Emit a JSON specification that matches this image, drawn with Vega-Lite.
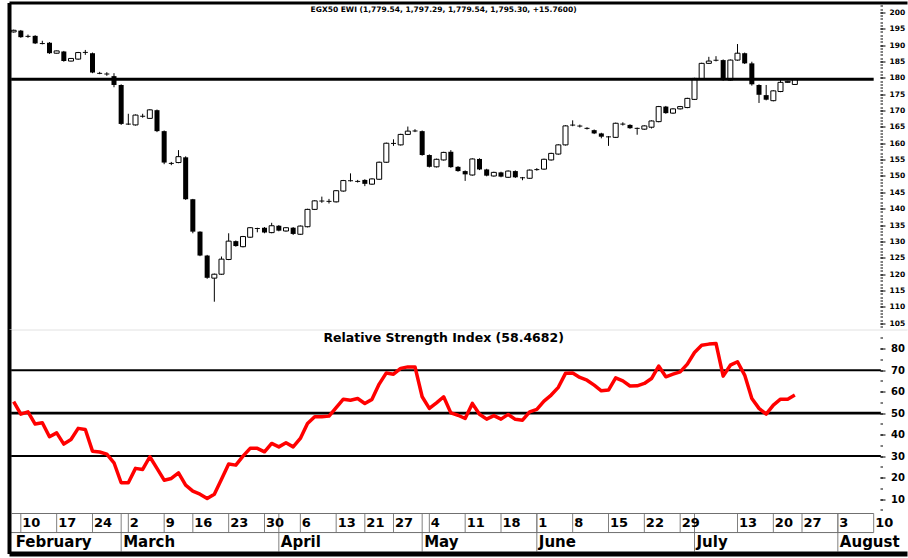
{
  "$schema": "https://vega.github.io/schema/vega-lite/v6.json",
  "padding": {"left": 9, "top": 2.5, "right": 1, "bottom": 4.5},
  "background": "white",
  "bounds": "flush",
  "spacing": 0,
  "config": {
    "view": {"stroke": null},
    "font": "DejaVu Sans",
    "axisX": {"domain": false, "ticks": false, "labels": false, "grid": false, "title": null},
    "axisY": {"domain": false, "ticks": false, "labels": false, "grid": false, "title": null}
  },
  "datasets": {
    "bars": [
      {"d":"2020-02-09","o":1940,"h":1947,"l":1938,"c":1945,"r":55.3},
      {"d":"2020-02-10","o":1944,"h":1946,"l":1922,"c":1924,"r":49.5},
      {"d":"2020-02-11","o":1928,"h":1932,"l":1922,"c":1925,"r":50.6},
      {"d":"2020-02-12","o":1928,"h":1930,"l":1903,"c":1905,"r":44.9},
      {"d":"2020-02-13","o":1906,"h":1913,"l":1902,"c":1903,"r":45.5},
      {"d":"2020-02-16","o":1907,"h":1909,"l":1873,"c":1875,"r":39.0},
      {"d":"2020-02-17","o":1875,"h":1883,"l":1874,"c":1882,"r":40.8},
      {"d":"2020-02-18","o":1880,"h":1882,"l":1849,"c":1851,"r":35.6},
      {"d":"2020-02-19","o":1851,"h":1860,"l":1850,"c":1859,"r":37.7},
      {"d":"2020-02-20","o":1857,"h":1879,"l":1855,"c":1877,"r":42.9},
      {"d":"2020-02-23","o":1879,"h":1885,"l":1870,"c":1876,"r":42.4},
      {"d":"2020-02-24","o":1875,"h":1877,"l":1814,"c":1816,"r":32.3},
      {"d":"2020-02-25","o":1815,"h":1818,"l":1811,"c":1812,"r":31.9},
      {"d":"2020-02-26","o":1813,"h":1817,"l":1806,"c":1810,"r":30.9},
      {"d":"2020-02-27","o":1805,"h":1814,"l":1771,"c":1778,"r":26.9},
      {"d":"2020-03-01","o":1778,"h":1780,"l":1656,"c":1659,"r":17.6},
      {"d":"2020-03-02","o":1660,"h":1690,"l":1656,"c":1657,"r":17.6},
      {"d":"2020-03-03","o":1656,"h":1688,"l":1654,"c":1686,"r":24.3},
      {"d":"2020-03-04","o":1684,"h":1690,"l":1678,"c":1681,"r":23.8},
      {"d":"2020-03-05","o":1676,"h":1704,"l":1675,"c":1702,"r":29.7},
      {"d":"2020-03-08","o":1701,"h":1703,"l":1634,"c":1637,"r":24.3},
      {"d":"2020-03-09","o":1637,"h":1639,"l":1536,"c":1541,"r":18.8},
      {"d":"2020-03-10","o":1540,"h":1543,"l":1533,"c":1537,"r":19.6},
      {"d":"2020-03-11","o":1541,"h":1579,"l":1539,"c":1559,"r":22.2},
      {"d":"2020-03-15","o":1557,"h":1560,"l":1427,"c":1429,"r":16.5},
      {"d":"2020-03-16","o":1429,"h":1430,"l":1325,"c":1330,"r":13.7},
      {"d":"2020-03-17","o":1330,"h":1331,"l":1255,"c":1257,"r":12.3},
      {"d":"2020-03-18","o":1257,"h":1259,"l":1186,"c":1189,"r":10.3},
      {"d":"2020-03-19","o":1188,"h":1202,"l":1116,"c":1200,"r":12.3},
      {"d":"2020-03-22","o":1200,"h":1254,"l":1198,"c":1246,"r":19.2},
      {"d":"2020-03-23","o":1245,"h":1325,"l":1243,"c":1301,"r":26.3},
      {"d":"2020-03-24","o":1301,"h":1303,"l":1284,"c":1286,"r":25.8},
      {"d":"2020-03-25","o":1284,"h":1317,"l":1282,"c":1315,"r":30.0},
      {"d":"2020-03-26","o":1313,"h":1344,"l":1311,"c":1342,"r":33.6},
      {"d":"2020-03-29","o":1341,"h":1342,"l":1328,"c":1338,"r":33.6},
      {"d":"2020-03-30","o":1342,"h":1344,"l":1325,"c":1327,"r":32.0},
      {"d":"2020-03-31","o":1327,"h":1357,"l":1325,"c":1348,"r":35.9},
      {"d":"2020-04-01","o":1348,"h":1350,"l":1331,"c":1333,"r":34.3},
      {"d":"2020-04-02","o":1332,"h":1344,"l":1330,"c":1342,"r":36.2},
      {"d":"2020-04-05","o":1342,"h":1344,"l":1320,"c":1323,"r":34.3},
      {"d":"2020-04-06","o":1322,"h":1349,"l":1320,"c":1347,"r":38.2},
      {"d":"2020-04-07","o":1345,"h":1400,"l":1343,"c":1398,"r":45.2},
      {"d":"2020-04-08","o":1398,"h":1426,"l":1396,"c":1424,"r":48.3},
      {"d":"2020-04-09","o":1425,"h":1437,"l":1418,"c":1422,"r":48.3},
      {"d":"2020-04-12","o":1424,"h":1430,"l":1416,"c":1421,"r":48.6},
      {"d":"2020-04-13","o":1421,"h":1457,"l":1419,"c":1455,"r":52.6},
      {"d":"2020-04-14","o":1454,"h":1488,"l":1452,"c":1486,"r":56.5},
      {"d":"2020-04-15","o":1487,"h":1508,"l":1483,"c":1484,"r":56.0},
      {"d":"2020-04-16","o":1485,"h":1488,"l":1480,"c":1482,"r":56.8},
      {"d":"2020-04-21","o":1488,"h":1490,"l":1469,"c":1476,"r":54.5},
      {"d":"2020-04-22","o":1475,"h":1493,"l":1473,"c":1491,"r":56.4},
      {"d":"2020-04-23","o":1490,"h":1544,"l":1488,"c":1542,"r":63.5},
      {"d":"2020-04-26","o":1542,"h":1602,"l":1540,"c":1600,"r":68.7},
      {"d":"2020-04-27","o":1601,"h":1612,"l":1592,"c":1598,"r":68.1},
      {"d":"2020-04-28","o":1595,"h":1629,"l":1593,"c":1627,"r":70.8},
      {"d":"2020-04-29","o":1627,"h":1651,"l":1625,"c":1637,"r":71.5},
      {"d":"2020-04-30","o":1639,"h":1643,"l":1634,"c":1636,"r":71.5},
      {"d":"2020-05-03","o":1637,"h":1639,"l":1562,"c":1564,"r":57.6},
      {"d":"2020-05-04","o":1564,"h":1566,"l":1526,"c":1528,"r":52.2},
      {"d":"2020-05-05","o":1528,"h":1553,"l":1526,"c":1551,"r":54.8},
      {"d":"2020-05-06","o":1549,"h":1574,"l":1547,"c":1572,"r":57.6},
      {"d":"2020-05-07","o":1574,"h":1579,"l":1525,"c":1527,"r":50.1},
      {"d":"2020-05-10","o":1528,"h":1530,"l":1513,"c":1515,"r":49.0},
      {"d":"2020-05-11","o":1515,"h":1517,"l":1485,"c":1505,"r":47.5},
      {"d":"2020-05-12","o":1503,"h":1554,"l":1501,"c":1552,"r":54.5},
      {"d":"2020-05-13","o":1552,"h":1554,"l":1518,"c":1520,"r":49.5},
      {"d":"2020-05-14","o":1520,"h":1522,"l":1499,"c":1501,"r":47.2},
      {"d":"2020-05-17","o":1500,"h":1513,"l":1498,"c":1511,"r":48.8},
      {"d":"2020-05-18","o":1511,"h":1513,"l":1496,"c":1498,"r":47.2},
      {"d":"2020-05-19","o":1496,"h":1517,"l":1494,"c":1515,"r":49.4},
      {"d":"2020-05-20","o":1515,"h":1517,"l":1494,"c":1496,"r":47.1},
      {"d":"2020-05-21","o":1496,"h":1497,"l":1487,"c":1493,"r":46.7},
      {"d":"2020-05-24","o":1493,"h":1520,"l":1491,"c":1518,"r":50.6},
      {"d":"2020-06-01","o":1521,"h":1524,"l":1516,"c":1518,"r":51.7},
      {"d":"2020-06-02","o":1521,"h":1553,"l":1519,"c":1551,"r":55.6},
      {"d":"2020-06-03","o":1549,"h":1571,"l":1547,"c":1569,"r":58.4},
      {"d":"2020-06-04","o":1567,"h":1597,"l":1565,"c":1595,"r":62.0},
      {"d":"2020-06-07","o":1595,"h":1655,"l":1593,"c":1653,"r":68.5},
      {"d":"2020-06-08","o":1657,"h":1670,"l":1652,"c":1654,"r":68.7},
      {"d":"2020-06-09","o":1654,"h":1657,"l":1648,"c":1651,"r":66.6},
      {"d":"2020-06-10","o":1647,"h":1649,"l":1642,"c":1644,"r":65.3},
      {"d":"2020-06-11","o":1640,"h":1642,"l":1628,"c":1630,"r":63.0},
      {"d":"2020-06-14","o":1630,"h":1632,"l":1615,"c":1620,"r":60.4},
      {"d":"2020-06-15","o":1621,"h":1622,"l":1592,"c":1618,"r":60.7},
      {"d":"2020-06-16","o":1618,"h":1663,"l":1616,"c":1661,"r":66.4},
      {"d":"2020-06-17","o":1660,"h":1664,"l":1654,"c":1657,"r":65.0},
      {"d":"2020-06-18","o":1656,"h":1658,"l":1644,"c":1646,"r":62.6},
      {"d":"2020-06-21","o":1647,"h":1648,"l":1626,"c":1644,"r":62.7},
      {"d":"2020-06-22","o":1643,"h":1655,"l":1641,"c":1653,"r":63.8},
      {"d":"2020-06-23","o":1649,"h":1670,"l":1645,"c":1668,"r":66.1},
      {"d":"2020-06-24","o":1666,"h":1714,"l":1664,"c":1712,"r":71.9},
      {"d":"2020-06-25","o":1712,"h":1714,"l":1690,"c":1692,"r":66.9},
      {"d":"2020-06-28","o":1692,"h":1707,"l":1690,"c":1705,"r":68.1},
      {"d":"2020-06-29","o":1705,"h":1714,"l":1703,"c":1712,"r":69.2},
      {"d":"2020-06-30","o":1709,"h":1739,"l":1707,"c":1737,"r":72.8},
      {"d":"2020-07-01","o":1734,"h":1800,"l":1732,"c":1798,"r":78.2},
      {"d":"2020-07-05","o":1796,"h":1846,"l":1794,"c":1844,"r":81.6},
      {"d":"2020-07-07","o":1844,"h":1864,"l":1842,"c":1851,"r":82.1},
      {"d":"2020-07-08","o":1855,"h":1866,"l":1850,"c":1852,"r":82.4},
      {"d":"2020-07-09","o":1854,"h":1856,"l":1791,"c":1793,"r":67.2},
      {"d":"2020-07-12","o":1793,"h":1856,"l":1791,"c":1854,"r":72.3},
      {"d":"2020-07-13","o":1854,"h":1903,"l":1852,"c":1875,"r":73.9},
      {"d":"2020-07-14","o":1875,"h":1877,"l":1842,"c":1844,"r":67.7},
      {"d":"2020-07-15","o":1844,"h":1849,"l":1776,"c":1780,"r":56.8},
      {"d":"2020-07-16","o":1778,"h":1780,"l":1723,"c":1748,"r":52.2},
      {"d":"2020-07-19","o":1747,"h":1778,"l":1731,"c":1733,"r":49.5},
      {"d":"2020-07-20","o":1730,"h":1762,"l":1728,"c":1760,"r":53.7},
      {"d":"2020-07-21","o":1758,"h":1798,"l":1756,"c":1786,"r":56.5},
      {"d":"2020-07-22","o":1786,"h":1791,"l":1784,"c":1789,"r":56.5},
      {"d":"2020-07-26","o":1779.54,"h":1797.29,"l":1779.54,"c":1795.3,"r":58.47}
    ],
    "weeks": [
      {"d":"2020-02-10","t":"10"},{"d":"2020-02-17","t":"17"},{"d":"2020-02-24","t":"24"},
      {"d":"2020-03-02","t":"2"},{"d":"2020-03-09","t":"9"},{"d":"2020-03-16","t":"16"},{"d":"2020-03-23","t":"23"},{"d":"2020-03-30","t":"30"},
      {"d":"2020-04-06","t":"6"},{"d":"2020-04-13","t":"13"},{"d":"2020-04-21","t":"21"},{"d":"2020-04-27","t":"27"},
      {"d":"2020-05-04","t":"4"},{"d":"2020-05-11","t":"11"},{"d":"2020-05-18","t":"18"},
      {"d":"2020-06-01","t":"1"},{"d":"2020-06-08","t":"8"},{"d":"2020-06-15","t":"15"},{"d":"2020-06-22","t":"22"},{"d":"2020-06-29","t":"29"},
      {"d":"2020-07-13","t":"13"},{"d":"2020-07-20","t":"20"},{"d":"2020-07-27","t":"27"},
      {"d":"2020-08-03","t":"3"},{"d":"2020-08-10","t":"10"}
    ],
    "months": [
      {"d":"2020-02-09","m":"February","lead":true},
      {"d":"2020-03-01","m":"March","lead":false},{"d":"2020-04-01","m":"April","lead":false},{"d":"2020-05-03","m":"May","lead":false},
      {"d":"2020-06-01","m":"June","lead":false},{"d":"2020-07-01","m":"July","lead":false},{"d":"2020-08-03","m":"August","lead":false}
    ],
    "titles": [
      {"d":"2020-05-06","panel":"price","t":"EGX50 EWI (1,779.54, 1,797.29, 1,779.54, 1,795.30, +15.7600)"},
      {"d":"2020-05-06","panel":"rsi","t":"Relative Strength Index (58.4682)"}
    ]
  },
  "vconcat": [
    {
      "width": 898,
      "height": 327,
      "resolve": {"axis": {"y": "independent"}},
      "encoding": {
        "x": {"field": "d", "type": "ordinal", "axis": {"orient": "top", "domain": true, "domainColor": "black", "domainWidth": 3, "zindex": 1},
          "scale": {"type": "band", "paddingInner": 0.3, "paddingOuter": 0.3, "domain": ["2020-02-09","2020-02-10","2020-02-11","2020-02-12","2020-02-13","2020-02-16","2020-02-17","2020-02-18","2020-02-19","2020-02-20","2020-02-23","2020-02-24","2020-02-25","2020-02-26","2020-02-27","2020-03-01","2020-03-02","2020-03-03","2020-03-04","2020-03-05","2020-03-08","2020-03-09","2020-03-10","2020-03-11","2020-03-15","2020-03-16","2020-03-17","2020-03-18","2020-03-19","2020-03-22","2020-03-23","2020-03-24","2020-03-25","2020-03-26","2020-03-29","2020-03-30","2020-03-31","2020-04-01","2020-04-02","2020-04-05","2020-04-06","2020-04-07","2020-04-08","2020-04-09","2020-04-12","2020-04-13","2020-04-14","2020-04-15","2020-04-16","2020-04-21","2020-04-22","2020-04-23","2020-04-26","2020-04-27","2020-04-28","2020-04-29","2020-04-30","2020-05-03","2020-05-04","2020-05-05","2020-05-06","2020-05-07","2020-05-10","2020-05-11","2020-05-12","2020-05-13","2020-05-14","2020-05-17","2020-05-18","2020-05-19","2020-05-20","2020-05-21","2020-05-24","2020-06-01","2020-06-02","2020-06-03","2020-06-04","2020-06-07","2020-06-08","2020-06-09","2020-06-10","2020-06-11","2020-06-14","2020-06-15","2020-06-16","2020-06-17","2020-06-18","2020-06-21","2020-06-22","2020-06-23","2020-06-24","2020-06-25","2020-06-28","2020-06-29","2020-06-30","2020-07-01","2020-07-05","2020-07-07","2020-07-08","2020-07-09","2020-07-12","2020-07-13","2020-07-14","2020-07-15","2020-07-16","2020-07-19","2020-07-20","2020-07-21","2020-07-22","2020-07-26","2020-07-27","2020-07-28","2020-07-29","2020-07-30","2020-07-31","2020-08-03","2020-08-04","2020-08-05","2020-08-06","2020-08-07","2020-08-10","2020-08-11","2020-08-12","2020-08-13","2020-08-14"]}}
      },
      "layer": [
        {
          "data": {"name": "bars"},
          "mark": {"type": "rule", "color": "black", "strokeWidth": 1},
          "encoding": {
            "y": {"field": "l", "type": "quantitative", "scale": {"domain": [1031.1, 2029.9], "nice": false, "zero": false},
              "axis": {"orient": "left", "domain": true, "domainColor": "black", "domainWidth": 4, "zindex": 1}},
            "y2": {"field": "h"}
          }
        },
        {
          "data": {"name": "bars"},
          "mark": {"type": "bar", "strokeWidth": 1},
          "encoding": {
            "y": {"field": "o", "type": "quantitative",
              "axis": {"orient": "right", "offset": -27, "ticks": true, "tickColor": "black", "tickWidth": 1, "tickSize": 5,
                "values": [1050,1100,1150,1200,1250,1300,1350,1400,1450,1500,1550,1600,1650,1700,1750,1800,1850,1900,1950,2000],
                "labels": true, "labelExpr": "slice('' + datum.value, 0, 3)",
                "labelFont": "DejaVu Sans", "labelFontWeight": "bold", "labelFontSize": 7.5, "labelColor": "black",
                "labelPadding": 4, "labelOverlap": false, "labelFlush": false, "labelBound": false}},
            "y2": {"field": "c"},
            "fill": {"condition": {"test": "datum.c >= datum.o", "value": "white"}, "value": "black"},
            "stroke": {"condition": {"test": "datum.c >= datum.o", "value": "black"}, "value": "transparent"}
          }
        },
        {
          "data": {"values": [{}]},
          "mark": {"type": "rule", "color": "black", "strokeWidth": 3},
          "encoding": {
            "x": {"datum": "2020-02-09", "type": "ordinal", "bandPosition": 0,
              "scale": {"type": "band", "paddingInner": 0.3, "paddingOuter": 0.3, "domain": ["2020-02-09","2020-02-10","2020-02-11","2020-02-12","2020-02-13","2020-02-16","2020-02-17","2020-02-18","2020-02-19","2020-02-20","2020-02-23","2020-02-24","2020-02-25","2020-02-26","2020-02-27","2020-03-01","2020-03-02","2020-03-03","2020-03-04","2020-03-05","2020-03-08","2020-03-09","2020-03-10","2020-03-11","2020-03-15","2020-03-16","2020-03-17","2020-03-18","2020-03-19","2020-03-22","2020-03-23","2020-03-24","2020-03-25","2020-03-26","2020-03-29","2020-03-30","2020-03-31","2020-04-01","2020-04-02","2020-04-05","2020-04-06","2020-04-07","2020-04-08","2020-04-09","2020-04-12","2020-04-13","2020-04-14","2020-04-15","2020-04-16","2020-04-21","2020-04-22","2020-04-23","2020-04-26","2020-04-27","2020-04-28","2020-04-29","2020-04-30","2020-05-03","2020-05-04","2020-05-05","2020-05-06","2020-05-07","2020-05-10","2020-05-11","2020-05-12","2020-05-13","2020-05-14","2020-05-17","2020-05-18","2020-05-19","2020-05-20","2020-05-21","2020-05-24","2020-06-01","2020-06-02","2020-06-03","2020-06-04","2020-06-07","2020-06-08","2020-06-09","2020-06-10","2020-06-11","2020-06-14","2020-06-15","2020-06-16","2020-06-17","2020-06-18","2020-06-21","2020-06-22","2020-06-23","2020-06-24","2020-06-25","2020-06-28","2020-06-29","2020-06-30","2020-07-01","2020-07-05","2020-07-07","2020-07-08","2020-07-09","2020-07-12","2020-07-13","2020-07-14","2020-07-15","2020-07-16","2020-07-19","2020-07-20","2020-07-21","2020-07-22","2020-07-26","2020-07-27","2020-07-28","2020-07-29","2020-07-30","2020-07-31","2020-08-03","2020-08-04","2020-08-05","2020-08-06","2020-08-07","2020-08-10","2020-08-11","2020-08-12","2020-08-13","2020-08-14"]}},
            "x2": {"datum": "2020-08-10"},
            "y": {"datum": 1795.3, "type": "quantitative", "axis": null}
          }
        },
        {
          "data": {"name": "titles"},
          "transform": [{"filter": "datum.panel === 'price'"}],
          "mark": {"type": "text", "align": "center", "baseline": "middle", "font": "DejaVu Sans", "fontWeight": "bold", "fontSize": 7.5, "color": "black"},
          "encoding": {
            "y": {"datum": 2008.5, "type": "quantitative",
              "axis": {"orient": "right", "offset": -27, "ticks": true, "tickColor": "black", "tickWidth": 1, "tickSize": 2.5, "labels": false,
                "values": [1040,1050,1060,1070,1080,1090,1100,1110,1120,1130,1140,1150,1160,1170,1180,1190,1200,1210,1220,1230,1240,1250,1260,1270,1280,1290,1300,1310,1320,1330,1340,1350,1360,1370,1380,1390,1400,1410,1420,1430,1440,1450,1460,1470,1480,1490,1500,1510,1520,1530,1540,1550,1560,1570,1580,1590,1600,1610,1620,1630,1640,1650,1660,1670,1680,1690,1700,1710,1720,1730,1740,1750,1760,1770,1780,1790,1800,1810,1820,1830,1840,1850,1860,1870,1880,1890,1900,1910,1920,1930,1940,1950,1960,1970,1980,1990,2000,2010,2020]}},
            "text": {"field": "t"}
          }
        }
      ]
    },
    {
      "width": 898,
      "height": 184,
      "resolve": {"axis": {"y": "independent"}},
      "encoding": {
        "x": {"field": "d", "type": "ordinal", "axis": {"orient": "top", "domain": true, "domainColor": "#e2e2e2", "domainWidth": 1},
          "scale": {"type": "band", "paddingInner": 0.3, "paddingOuter": 0.3, "domain": ["2020-02-09","2020-02-10","2020-02-11","2020-02-12","2020-02-13","2020-02-16","2020-02-17","2020-02-18","2020-02-19","2020-02-20","2020-02-23","2020-02-24","2020-02-25","2020-02-26","2020-02-27","2020-03-01","2020-03-02","2020-03-03","2020-03-04","2020-03-05","2020-03-08","2020-03-09","2020-03-10","2020-03-11","2020-03-15","2020-03-16","2020-03-17","2020-03-18","2020-03-19","2020-03-22","2020-03-23","2020-03-24","2020-03-25","2020-03-26","2020-03-29","2020-03-30","2020-03-31","2020-04-01","2020-04-02","2020-04-05","2020-04-06","2020-04-07","2020-04-08","2020-04-09","2020-04-12","2020-04-13","2020-04-14","2020-04-15","2020-04-16","2020-04-21","2020-04-22","2020-04-23","2020-04-26","2020-04-27","2020-04-28","2020-04-29","2020-04-30","2020-05-03","2020-05-04","2020-05-05","2020-05-06","2020-05-07","2020-05-10","2020-05-11","2020-05-12","2020-05-13","2020-05-14","2020-05-17","2020-05-18","2020-05-19","2020-05-20","2020-05-21","2020-05-24","2020-06-01","2020-06-02","2020-06-03","2020-06-04","2020-06-07","2020-06-08","2020-06-09","2020-06-10","2020-06-11","2020-06-14","2020-06-15","2020-06-16","2020-06-17","2020-06-18","2020-06-21","2020-06-22","2020-06-23","2020-06-24","2020-06-25","2020-06-28","2020-06-29","2020-06-30","2020-07-01","2020-07-05","2020-07-07","2020-07-08","2020-07-09","2020-07-12","2020-07-13","2020-07-14","2020-07-15","2020-07-16","2020-07-19","2020-07-20","2020-07-21","2020-07-22","2020-07-26","2020-07-27","2020-07-28","2020-07-29","2020-07-30","2020-07-31","2020-08-03","2020-08-04","2020-08-05","2020-08-06","2020-08-07","2020-08-10","2020-08-11","2020-08-12","2020-08-13","2020-08-14"]}}
      },
      "layer": [
        {
          "data": {"values": [{"lvl": 70}, {"lvl": 50}, {"lvl": 30}]},
          "mark": {"type": "rule", "color": "black"},
          "encoding": {
            "x": {"datum": "2020-02-09", "type": "ordinal", "bandPosition": 0,
              "scale": {"type": "band", "paddingInner": 0.3, "paddingOuter": 0.3, "domain": ["2020-02-09","2020-02-10","2020-02-11","2020-02-12","2020-02-13","2020-02-16","2020-02-17","2020-02-18","2020-02-19","2020-02-20","2020-02-23","2020-02-24","2020-02-25","2020-02-26","2020-02-27","2020-03-01","2020-03-02","2020-03-03","2020-03-04","2020-03-05","2020-03-08","2020-03-09","2020-03-10","2020-03-11","2020-03-15","2020-03-16","2020-03-17","2020-03-18","2020-03-19","2020-03-22","2020-03-23","2020-03-24","2020-03-25","2020-03-26","2020-03-29","2020-03-30","2020-03-31","2020-04-01","2020-04-02","2020-04-05","2020-04-06","2020-04-07","2020-04-08","2020-04-09","2020-04-12","2020-04-13","2020-04-14","2020-04-15","2020-04-16","2020-04-21","2020-04-22","2020-04-23","2020-04-26","2020-04-27","2020-04-28","2020-04-29","2020-04-30","2020-05-03","2020-05-04","2020-05-05","2020-05-06","2020-05-07","2020-05-10","2020-05-11","2020-05-12","2020-05-13","2020-05-14","2020-05-17","2020-05-18","2020-05-19","2020-05-20","2020-05-21","2020-05-24","2020-06-01","2020-06-02","2020-06-03","2020-06-04","2020-06-07","2020-06-08","2020-06-09","2020-06-10","2020-06-11","2020-06-14","2020-06-15","2020-06-16","2020-06-17","2020-06-18","2020-06-21","2020-06-22","2020-06-23","2020-06-24","2020-06-25","2020-06-28","2020-06-29","2020-06-30","2020-07-01","2020-07-05","2020-07-07","2020-07-08","2020-07-09","2020-07-12","2020-07-13","2020-07-14","2020-07-15","2020-07-16","2020-07-19","2020-07-20","2020-07-21","2020-07-22","2020-07-26","2020-07-27","2020-07-28","2020-07-29","2020-07-30","2020-07-31","2020-08-03","2020-08-04","2020-08-05","2020-08-06","2020-08-07","2020-08-10","2020-08-11","2020-08-12","2020-08-13","2020-08-14"]}},
            "x2": {"datum": "2020-08-11"},
            "y": {"field": "lvl", "type": "quantitative", "scale": {"domain": [3.3, 88.9], "nice": false, "zero": false},
              "axis": {"orient": "right", "offset": -27, "ticks": true, "tickColor": "black", "tickWidth": 1, "tickSize": 5,
                "values": [10,20,30,40,50,60,70,80],
                "labels": true,
                "labelFont": "DejaVu Sans", "labelFontWeight": "bold", "labelFontSize": 10, "labelColor": "black",
                "labelPadding": 5.5, "labelOverlap": false, "labelFlush": false, "labelBound": false}},
            "strokeWidth": {"condition": {"test": "datum.lvl === 50", "value": 2.6}, "value": 2}
          }
        },
        {
          "data": {"name": "bars"},
          "mark": {"type": "line", "color": "#ff0000", "strokeWidth": 3.5, "strokeJoin": "round"},
          "encoding": {
            "y": {"field": "r", "type": "quantitative",
              "axis": {"orient": "left", "domain": true, "domainColor": "black", "domainWidth": 4, "zindex": 1}}
          }
        },
        {
          "data": {"name": "titles"},
          "transform": [{"filter": "datum.panel === 'rsi'"}],
          "mark": {"type": "text", "align": "center", "baseline": "middle", "font": "DejaVu Sans", "fontWeight": "bold", "fontSize": 12.5, "color": "black"},
          "encoding": {
            "y": {"datum": 84.9, "type": "quantitative",
              "axis": {"orient": "right", "offset": -27, "ticks": true, "tickColor": "black", "tickWidth": 1, "tickSize": 2.5, "labels": false,
                "values": [5,10,15,20,25,30,35,40,45,50,55,60,65,70,75,80,85]}},
            "text": {"field": "t"}
          }
        }
      ]
    },
    {
      "width": 898,
      "height": 40,
      "encoding": {
        "x": {"field": "d", "type": "ordinal", "axis": {"orient": "bottom", "domain": true, "domainColor": "black", "domainWidth": 5, "zindex": 1},
          "scale": {"type": "band", "paddingInner": 0.3, "paddingOuter": 0.3, "domain": ["2020-02-09","2020-02-10","2020-02-11","2020-02-12","2020-02-13","2020-02-16","2020-02-17","2020-02-18","2020-02-19","2020-02-20","2020-02-23","2020-02-24","2020-02-25","2020-02-26","2020-02-27","2020-03-01","2020-03-02","2020-03-03","2020-03-04","2020-03-05","2020-03-08","2020-03-09","2020-03-10","2020-03-11","2020-03-15","2020-03-16","2020-03-17","2020-03-18","2020-03-19","2020-03-22","2020-03-23","2020-03-24","2020-03-25","2020-03-26","2020-03-29","2020-03-30","2020-03-31","2020-04-01","2020-04-02","2020-04-05","2020-04-06","2020-04-07","2020-04-08","2020-04-09","2020-04-12","2020-04-13","2020-04-14","2020-04-15","2020-04-16","2020-04-21","2020-04-22","2020-04-23","2020-04-26","2020-04-27","2020-04-28","2020-04-29","2020-04-30","2020-05-03","2020-05-04","2020-05-05","2020-05-06","2020-05-07","2020-05-10","2020-05-11","2020-05-12","2020-05-13","2020-05-14","2020-05-17","2020-05-18","2020-05-19","2020-05-20","2020-05-21","2020-05-24","2020-06-01","2020-06-02","2020-06-03","2020-06-04","2020-06-07","2020-06-08","2020-06-09","2020-06-10","2020-06-11","2020-06-14","2020-06-15","2020-06-16","2020-06-17","2020-06-18","2020-06-21","2020-06-22","2020-06-23","2020-06-24","2020-06-25","2020-06-28","2020-06-29","2020-06-30","2020-07-01","2020-07-05","2020-07-07","2020-07-08","2020-07-09","2020-07-12","2020-07-13","2020-07-14","2020-07-15","2020-07-16","2020-07-19","2020-07-20","2020-07-21","2020-07-22","2020-07-26","2020-07-27","2020-07-28","2020-07-29","2020-07-30","2020-07-31","2020-08-03","2020-08-04","2020-08-05","2020-08-06","2020-08-07","2020-08-10","2020-08-11","2020-08-12","2020-08-13","2020-08-14"]}}
      },
      "layer": [
        {
          "data": {"name": "weeks"},
          "mark": {"type": "rule", "color": "#808080", "strokeWidth": 1},
          "encoding": {
            "y": {"datum": 0, "type": "quantitative", "scale": {"domain": [0, 2.1], "reverse": true, "nice": false, "zero": false},
              "axis": {"orient": "left", "domain": true, "domainColor": "black", "domainWidth": 4, "zindex": 1}},
            "y2": {"datum": 1}
          }
        },
        {
          "data": {"name": "months"},
          "transform": [{"filter": "!datum.lead"}],
          "mark": {"type": "rule", "color": "#808080", "strokeWidth": 1},
          "encoding": {
            "y": {"datum": 0, "type": "quantitative"},
            "y2": {"datum": 2}
          }
        },
        {
          "data": {"values": [{"row": 0}, {"row": 1}]},
          "mark": {"type": "rule", "color": "#707070", "strokeWidth": 1},
          "encoding": {
            "x": {"datum": "2020-02-09", "type": "ordinal", "bandPosition": 0,
              "scale": {"type": "band", "paddingInner": 0.3, "paddingOuter": 0.3, "domain": ["2020-02-09","2020-02-10","2020-02-11","2020-02-12","2020-02-13","2020-02-16","2020-02-17","2020-02-18","2020-02-19","2020-02-20","2020-02-23","2020-02-24","2020-02-25","2020-02-26","2020-02-27","2020-03-01","2020-03-02","2020-03-03","2020-03-04","2020-03-05","2020-03-08","2020-03-09","2020-03-10","2020-03-11","2020-03-15","2020-03-16","2020-03-17","2020-03-18","2020-03-19","2020-03-22","2020-03-23","2020-03-24","2020-03-25","2020-03-26","2020-03-29","2020-03-30","2020-03-31","2020-04-01","2020-04-02","2020-04-05","2020-04-06","2020-04-07","2020-04-08","2020-04-09","2020-04-12","2020-04-13","2020-04-14","2020-04-15","2020-04-16","2020-04-21","2020-04-22","2020-04-23","2020-04-26","2020-04-27","2020-04-28","2020-04-29","2020-04-30","2020-05-03","2020-05-04","2020-05-05","2020-05-06","2020-05-07","2020-05-10","2020-05-11","2020-05-12","2020-05-13","2020-05-14","2020-05-17","2020-05-18","2020-05-19","2020-05-20","2020-05-21","2020-05-24","2020-06-01","2020-06-02","2020-06-03","2020-06-04","2020-06-07","2020-06-08","2020-06-09","2020-06-10","2020-06-11","2020-06-14","2020-06-15","2020-06-16","2020-06-17","2020-06-18","2020-06-21","2020-06-22","2020-06-23","2020-06-24","2020-06-25","2020-06-28","2020-06-29","2020-06-30","2020-07-01","2020-07-05","2020-07-07","2020-07-08","2020-07-09","2020-07-12","2020-07-13","2020-07-14","2020-07-15","2020-07-16","2020-07-19","2020-07-20","2020-07-21","2020-07-22","2020-07-26","2020-07-27","2020-07-28","2020-07-29","2020-07-30","2020-07-31","2020-08-03","2020-08-04","2020-08-05","2020-08-06","2020-08-07","2020-08-10","2020-08-11","2020-08-12","2020-08-13","2020-08-14"]}},
            "x2": {"datum": "2020-08-10"},
            "y": {"field": "row", "type": "quantitative"}
          }
        },
        {
          "data": {"name": "weeks"},
          "mark": {"type": "text", "align": "left", "baseline": "middle", "dx": 1.5, "font": "DejaVu Sans", "fontWeight": "bold", "fontSize": 13, "color": "black"},
          "encoding": {
            "y": {"datum": 0.5, "type": "quantitative"},
            "text": {"field": "t"}
          }
        },
        {
          "data": {"name": "months"},
          "mark": {"type": "text", "align": "left", "baseline": "middle", "dx": 2, "font": "DejaVu Sans", "fontWeight": "bold", "fontSize": 15, "color": "black"},
          "encoding": {
            "y": {"datum": 1.5, "type": "quantitative"},
            "text": {"field": "m"}
          }
        }
      ]
    }
  ]
}
